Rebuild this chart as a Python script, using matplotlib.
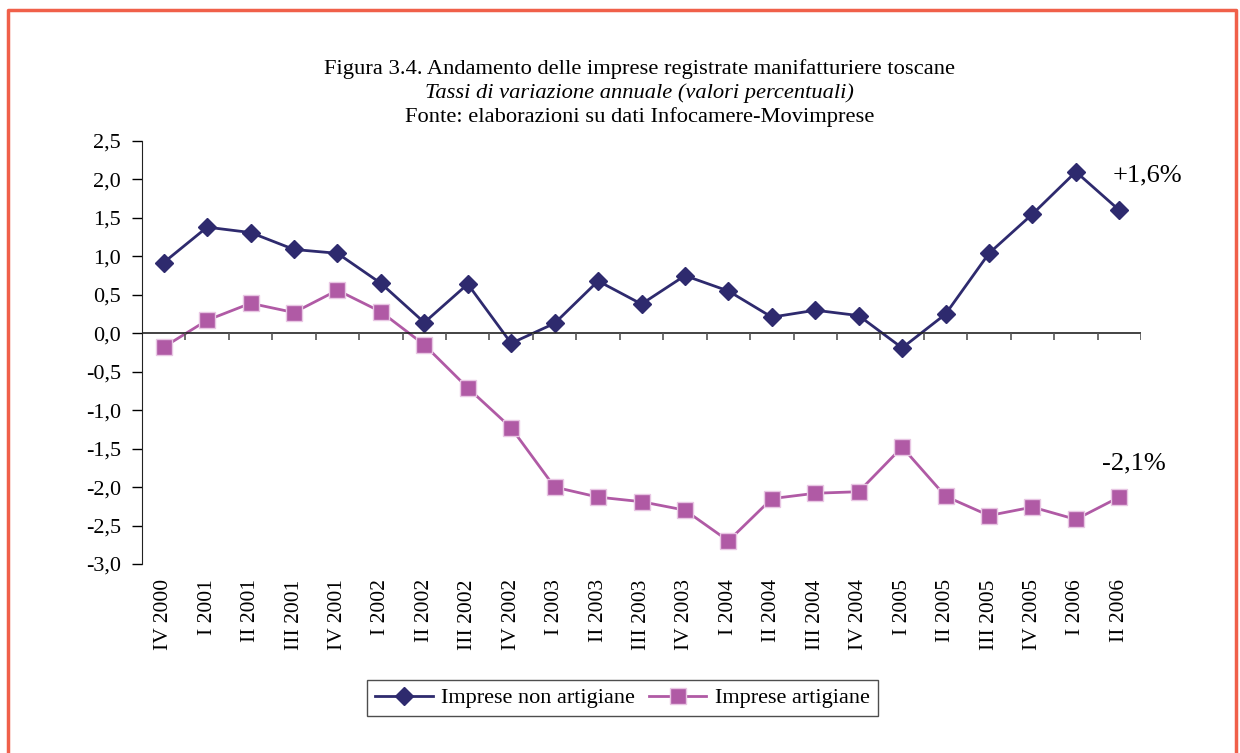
import numpy as np
import matplotlib
matplotlib.use("Agg")
import matplotlib.pyplot as plt
from matplotlib.lines import Line2D
from matplotlib.ticker import FuncFormatter

plt.rcParams['font.family'] = ['Liberation Serif', 'DejaVu Serif']

# quarters on the x axis
quarters = ["IV 2000", "I 2001", "II 2001", "III 2001", "IV 2001",
            "I 2002", "II 2002", "III 2002", "IV 2002",
            "I 2003", "II 2003", "III 2003", "IV 2003",
            "I 2004", "II 2004", "III 2004", "IV 2004",
            "I 2005", "II 2005", "III 2005", "IV 2005",
            "I 2006", "II 2006"]

# annual change rates (%)
non_artigiane = [0.92, 1.38, 1.31, 1.09, 1.04, 0.65, 0.14, 0.64, -0.13,
                 0.13, 0.68, 0.38, 0.75, 0.55, 0.21, 0.30, 0.23,
                 -0.19, 0.25, 1.04, 1.55, 2.10, 1.60]
artigiane = [-0.18, 0.17, 0.39, 0.27, 0.56, 0.28, -0.15, -0.71, -1.23,
             -2.00, -2.13, -2.19, -2.30, -2.70, -2.15, -2.08, -2.06,
             -1.48, -2.12, -2.37, -2.26, -2.42, -2.13]

navy = "#2e2a6e"
mauve = "#b05aa5"

fig = plt.figure(figsize=(12.4, 7.53), dpi=100)
ax = fig.add_axes([0.1145, 0.251, 0.8057, 0.5617])

x = np.arange(len(quarters))
ax.plot(x, non_artigiane, color=navy, lw=2, marker="D", ms=9,
        markeredgecolor=navy, label="Imprese non artigiane")
ax.plot(x, artigiane, color=mauve, lw=2, marker="s", ms=11,
        markeredgecolor="#e8c6e3", markeredgewidth=1, label="Imprese artigiane")

ax.set_xlim(-0.5, len(quarters) - 0.5)
ax.set_ylim(-3.0, 2.5)
ax.set_yticks(np.arange(-3.0, 2.51, 0.5))
ax.yaxis.set_major_formatter(FuncFormatter(lambda v, p: f"{v:.1f}".replace(".", ",")))
ax.tick_params(axis="y", labelsize=16, length=7, width=1, pad=8)

# category labels sit below the plot, the axis line itself runs at zero
ax.set_xticks(x)
ax.set_xticklabels(quarters, rotation=90, fontsize=15.5, va="top")
ax.tick_params(axis="x", length=0, pad=11)
for side in ("top", "right", "bottom"):
    ax.spines[side].set_visible(False)
ax.spines["left"].set_color("#222222")
ax.axhline(0, color="#222222", lw=1.2)
ax.vlines(np.arange(-0.5, len(quarters)), -0.09, 0, color="#555555", lw=1.2)

ax.text(21.85, 2.05, "+1,6%", fontsize=19, va="center", ha="left")
ax.text(21.6, -1.69, "-2,1%", fontsize=19, va="center", ha="left")

fig.text(0.516, 0.908, "Figura 3.4. Andamento delle imprese registrate manifatturiere toscane",
         ha="center", va="center", fontsize=16.2)
fig.text(0.516, 0.876, "Tassi di variazione annuale (valori percentuali)",
         ha="center", va="center", fontsize=16.2, style="italic")
fig.text(0.516, 0.844, "Fonte: elaborazioni su dati Infocamere-Movimprese",
         ha="center", va="center", fontsize=16.2)

leg = fig.legend(loc="center", bbox_to_anchor=(0.502, 0.073), ncol=2,
                 fontsize=16, frameon=True, fancybox=False, handlelength=2.6,
                 columnspacing=0.6, handletextpad=0.4, borderpad=0.35,
                 borderaxespad=0)
leg.get_frame().set_edgecolor("#222222")
leg.get_frame().set_linewidth(1)

# orange page frame
fx = [8 / 1240, 8 / 1240, 1236 / 1240, 1236 / 1240]
fy = [0, 1 - 10 / 753, 1 - 10 / 753, 0]
fig.add_artist(Line2D(fx, fy, transform=fig.transFigure, color="#f0604a", lw=2.5))

fig.savefig("out.png", dpi=100)
